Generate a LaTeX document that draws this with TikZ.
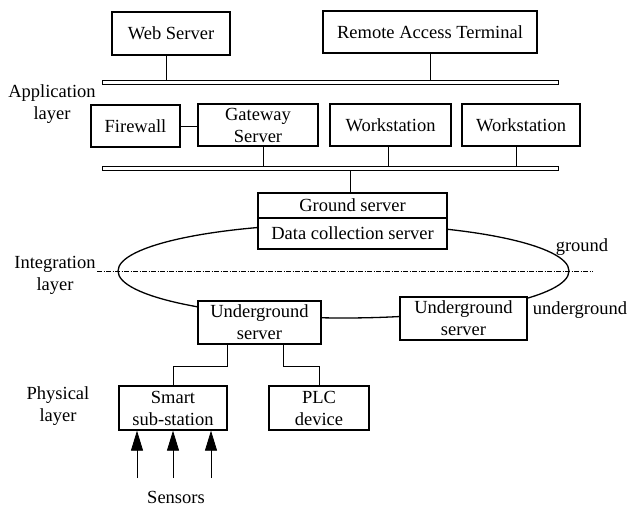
\documentclass[tikz,border=0pt]{standalone}
\usepackage{fontspec}
\setmainfont{Liberation Serif}
\usetikzlibrary{arrows.meta}
\begin{document}
\begin{tikzpicture}[x=1pt,y=-1pt,
  every node/.style={font=\fontsize{18.5}{22}\selectfont},
  box/.style={draw,line width=1.3pt,fill=white,inner sep=0pt,align=center},
  bus/.style={draw,line width=0.8pt,fill=white,inner sep=0pt,minimum width=456pt,minimum height=4pt},
  lbl/.style={align=center,inner sep=0pt},
  conn/.style={line width=0.8pt},
  sens/.style={line width=0.8pt,-{Triangle[length=20pt,width=12pt]}}]
\useasboundingbox (0,0) rectangle (632,508);
% ellipse and ground line
\draw[line width=1.3pt] (343.5,271) ellipse [x radius=225.5, y radius=47];
\coordinate (dl) at (97,271);
\coordinate (dr) at (593,271);
\draw[line width=0.8pt,dash pattern=on 5pt off 1.5pt on 1pt off 1.5pt] (dl) -- (dr);
% top
\node[box,minimum width=118pt,minimum height=43pt] (web) at (171,33.5) {Web Server};
\node[box,minimum width=214pt,minimum height=42pt] (rat) at (430,32) {Remote Access Terminal};
\node[bus] (bus1) at (330,82) {};
\node[box,minimum width=89pt,minimum height=42pt] (fw) at (135.5,126) {Firewall};
\node[box,minimum width=120pt,minimum height=42pt] (gw) at (258,125) {Gateway\\Server};
\node[box,minimum width=121pt,minimum height=42pt] (ws1) at (390.5,125) {Workstation};
\node[box,minimum width=118pt,minimum height=42pt] (ws2) at (521,125) {Workstation};
\node[bus] (bus2) at (330,168) {};
% ground server
\node[box,minimum width=189pt,minimum height=25pt] (gs) at (352.5,205.5) {Ground server};
\node[box,minimum width=189pt,minimum height=31pt] (dcs) at (352.5,233.5) {Data collection server};
% underground
\node[box,minimum width=123pt,minimum height=43pt] (ug1) at (259.5,322.5) {Underground\\server};
\node[box,minimum width=127pt,minimum height=43pt] (ug2) at (463.5,318.5) {Underground\\server};
% physical
\node[box,minimum width=108pt,minimum height=44pt] (smart) at (173,408) {Smart\\sub-station};
\node[box,minimum width=100pt,minimum height=44pt] (plc) at (319,408) {PLC\\device};
% labels
\node[lbl] (app) at (52,104.5) {Application\\layer};
\node[lbl] (integ) at (55,275) {Integration\\layer};
\node[lbl] (phys) at (58,406.5) {Physical\\layer};
\node[lbl] (gnd) at (582,247) {ground};
\node[lbl] (ugnd) at (580,310) {underground};
\node[lbl] (sensors) at (176,497) {Sensors};
% x positions
\coordinate (xweb) at (166,0);
\coordinate (xgw) at (263,0);
\coordinate (xws1) at (388,0);
\coordinate (xws2) at (516,0);
\coordinate (xgs) at (350,0);
\coordinate (xu1) at (227,0);
\coordinate (xu2) at (283,0);
\coordinate (ymid) at (0,366);
\coordinate (xs1) at (137,0);
\coordinate (xs3) at (211,0);
\coordinate (ysens) at (0,478);
% connectors
\draw[conn] (web.south -| xweb) -- (bus1.north -| xweb);
\draw[conn] (rat.south) -- (bus1.north -| rat.south);
\draw[conn] (fw.east) -- (gw.west |- fw.east);
\draw[conn] (gw.south -| xgw) -- (bus2.north -| xgw);
\draw[conn] (ws1.south -| xws1) -- (bus2.north -| xws1);
\draw[conn] (ws2.south -| xws2) -- (bus2.north -| xws2);
\draw[conn] (bus2.south -| xgs) -- (gs.north -| xgs);
\draw[conn] (ug1.south -| xu1) -- (xu1 |- ymid) -| (smart.north);
\draw[conn] (ug1.south -| xu2) -- (xu2 |- ymid) -| (plc.north);
\draw[sens] (xs1 |- ysens) -- (smart.south -| xs1);
\draw[sens] (smart.south |- ysens) -- (smart.south);
\draw[sens] (xs3 |- ysens) -- (smart.south -| xs3);
\end{tikzpicture}
\end{document}
